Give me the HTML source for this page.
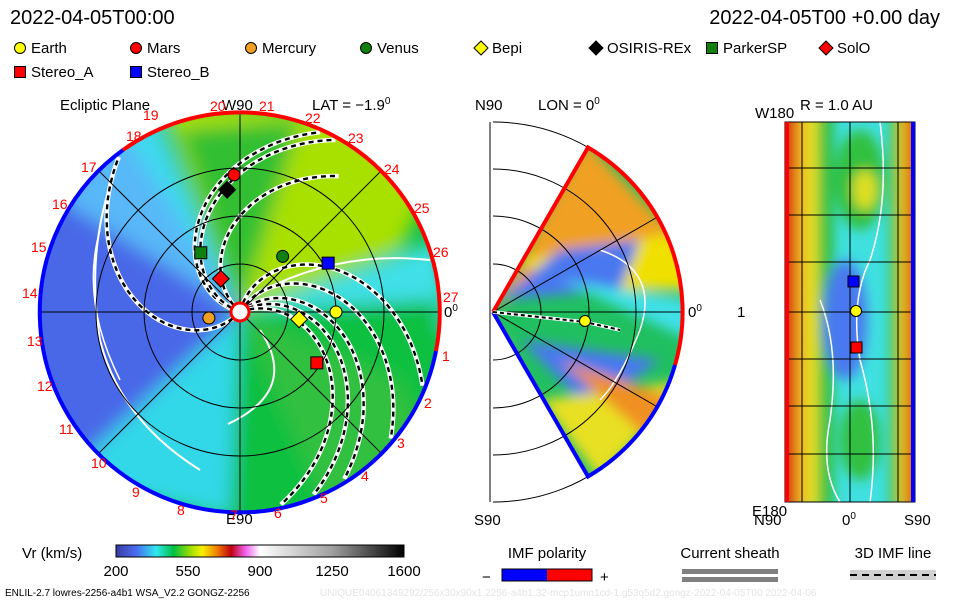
<!DOCTYPE html>
<html><head><meta charset="utf-8"><style>
body{margin:0;background:#fff;}
svg{display:block;font-family:"Liberation Sans",sans-serif;}
</style></head><body>
<svg id="c" width="960" height="600" viewBox="0 0 960 600">
<defs>
<filter id="bl"><feGaussianBlur stdDeviation="9"/></filter>
<filter id="bl2"><feGaussianBlur stdDeviation="6"/></filter>
<clipPath id="diskClip"><circle cx="240" cy="312" r="200"/></clipPath>
<clipPath id="wedgeClip"><path d="M493,312 L588,147.5 A190,190 0 0 1 588,476.5 Z"/></clipPath>
<clipPath id="rectClip"><rect x="785" y="122" width="130" height="380"/></clipPath>
<linearGradient id="cbar" x1="0" x2="1" y1="0" y2="0">
<stop offset="0" stop-color="#3a3aa0"/><stop offset="0.07" stop-color="#4a6cf0"/><stop offset="0.14" stop-color="#30e8f0"/>
<stop offset="0.2" stop-color="#00c040"/><stop offset="0.26" stop-color="#a0e000"/><stop offset="0.3" stop-color="#f8f000"/>
<stop offset="0.35" stop-color="#f08000"/><stop offset="0.4" stop-color="#c00010"/><stop offset="0.45" stop-color="#f060f0"/>
<stop offset="0.5" stop-color="#ffffff"/><stop offset="0.75" stop-color="#a0a0a0"/><stop offset="1" stop-color="#000"/>
</linearGradient>
<linearGradient id="imfp" x1="0" x2="1"><stop offset="0.5" stop-color="#0000ff"/><stop offset="0.5" stop-color="#ff0000"/></linearGradient>
</defs>

<text x="10" y="24" font-size="20">2022-04-05T00:00</text>
<text x="940" y="24" font-size="20" text-anchor="end">2022-04-05T00 +0.00 day</text>

<g id="legend" font-size="15"></g>

<g>
<text x="60" y="110" font-size="15">Ecliptic Plane</text>
<text x="222" y="110" font-size="15">W90</text>
<text x="312" y="110" font-size="15">LAT = −1.9<tspan dy="-6" font-size="10">0</tspan></text>
<text x="226" y="524" font-size="15">E90</text>
<text x="444" y="317" font-size="15">0<tspan dy="-6" font-size="10">0</tspan></text>
<g clip-path="url(#diskClip)">
<circle cx="240" cy="312" r="200" fill="#10c040"/>
<g filter="url(#bl)">
<path d="M240,312 L130,100 A230,230 0 0 0 60,480 Z" fill="#4a68e8"/>
<path d="M240,312 L150,100 L100,90 L95,180 Z" fill="#40d8f0"/>
<path d="M240,312 L120,130 L60,200 Z" fill="#58b8f8"/>
<path d="M240,312 L160,100 L460,120 L400,250 Z" fill="#a8e000"/>
<path d="M240,312 L180,130 L300,120 Z" fill="#30c030"/>
<path d="M240,312 L440,240 L450,330 Z" fill="#40e0e8"/>
<path d="M240,312 L440,300 L440,420 L300,330 Z" fill="#10c040"/>
<path d="M240,312 L60,480 L240,520 L260,330 Z" fill="#30d8e8"/>
<path d="M240,312 L230,520 L330,520 Z" fill="#10c040"/>
<path d="M240,312 L330,520 L430,440 L400,380 Z" fill="#30c040"/>
</g>
<path d="M116,168 Q85,250 100,340 Q120,420 200,470" stroke="#fff" stroke-width="2" fill="none"/>
<path d="M100,230 Q80,300 120,380" stroke="#fff" stroke-width="1.5" fill="none"/>
<path d="M260,292 Q340,250 430,260" stroke="#fff" stroke-width="2" fill="none"/>
<path d="M260,330 Q300,390 228,424" stroke="#fff" stroke-width="2" fill="none"/>
<g id="spirals"></g>
</g>
<g id="leftGrid" stroke="#000" stroke-width="1" fill="none"></g>
<path d="M123,150 A200,200 0 0 1 436,351" stroke="#f00" stroke-width="4" fill="none"/>
<path d="M436,351 A200,200 0 1 1 123,150" stroke="#00f" stroke-width="4" fill="none"/>
<circle cx="240" cy="312" r="9" fill="#fff" stroke="#f00" stroke-width="3"/>
<g id="carrLabels" fill="#f00" font-size="14"></g>
<g id="planets"></g>
</g>

<g>
<text x="475" y="110" font-size="15">N90</text>
<text x="538" y="110" font-size="15">LON = 0<tspan dy="-6" font-size="10">0</tspan></text>
<text x="474" y="525" font-size="15">S90</text>
<text x="688" y="317" font-size="15">0<tspan dy="-6" font-size="10">0</tspan></text>
<g clip-path="url(#wedgeClip)">
<rect x="490" y="140" width="200" height="345" fill="#20c060"/>
<g filter="url(#bl2)">
<path d="M493,312 L585,140 L690,250 L560,260 Z" fill="#f0a020"/>
<path d="M520,260 L690,230 L690,290 L560,290 Z" fill="#f0e000"/>
<path d="M500,300 L560,250 L640,240 L620,290 Z" fill="#4878f0"/>
<path d="M560,280 L690,300 L690,340 Z" fill="#40e0e8"/>
<path d="M520,340 L660,360 L590,410 Z" fill="#4878f0"/>
<path d="M540,400 L690,380 L600,480 Z" fill="#e8e020"/>
<path d="M560,360 L680,400 L650,440 Z" fill="#f09020"/>
<path d="M500,330 L560,480 L520,480 Z" fill="#e0d020"/>
</g>
<path d="M600,250 Q660,270 640,330 Q620,380 600,400" stroke="#fff" stroke-width="1.5" fill="none"/>
</g>
<g id="midGrid" stroke="#000" fill="none"></g>
<path d="M493,312 L588,147.5 A190,190 0 0 1 675,365" stroke="#f00" stroke-width="4" fill="none"/>
<path d="M675,365 A190,190 0 0 1 588,476.5 L493,312" stroke="#00f" stroke-width="4" fill="none"/>
<path d="M493,312 L585,322 L620,330" stroke="#fff" stroke-width="3.5" fill="none"/>
<path d="M493,312 L585,322 L620,330" stroke="#000" stroke-width="2" stroke-dasharray="4 3" fill="none"/>
<circle cx="585" cy="321" r="5.5" fill="#ff0" stroke="#000"/>
</g>

<g>
<text x="755" y="118" font-size="15">W180</text>
<text x="800" y="110" font-size="15">R = 1.0 AU</text>
<text x="737" y="317" font-size="15">1</text>
<text x="752" y="516" font-size="15">E180</text>
<text x="754" y="525" font-size="15">N90</text>
<text x="842" y="525" font-size="15">0<tspan dy="-6" font-size="10">0</tspan></text>
<text x="904" y="525" font-size="15">S90</text>
<g clip-path="url(#rectClip)">
<rect x="785" y="122" width="130" height="380" fill="#40e0e0"/>
<g filter="url(#bl2)">
<rect x="770" y="110" width="24" height="400" fill="#d02010"/>
<rect x="794" y="110" width="10" height="400" fill="#f0a020"/>
<rect x="804" y="110" width="14" height="400" fill="#e8e020"/>
<rect x="818" y="110" width="16" height="400" fill="#30c040"/>
<rect x="890" y="110" width="8" height="400" fill="#30c040"/>
<rect x="898" y="110" width="8" height="400" fill="#f0d020"/>
<rect x="906" y="110" width="20" height="400" fill="#e05010"/>
<ellipse cx="860" cy="180" rx="25" ry="50" fill="#30c040"/>
<ellipse cx="865" cy="190" rx="12" ry="20" fill="#e0e020"/>
<ellipse cx="845" cy="320" rx="22" ry="60" fill="#4878f0"/>
<ellipse cx="860" cy="440" rx="20" ry="40" fill="#30c040"/>
</g>
<path d="M880,122 Q890,200 870,260 Q850,300 860,360 Q880,430 870,502" stroke="#fff" stroke-width="1.5" fill="none"/>
<path d="M820,300 Q840,350 830,420 Q820,470 840,502" stroke="#fff" stroke-width="1.5" fill="none"/>
</g>
<g id="rightGrid" stroke="#000" fill="none"></g>
<line x1="787" y1="122" x2="787" y2="502" stroke="#f00" stroke-width="4"/>
<line x1="913" y1="122" x2="913" y2="502" stroke="#00f" stroke-width="4"/>
<rect x="848" y="276" width="11" height="11" fill="#00f" stroke="#000"/>
<circle cx="856" cy="311" r="5.5" fill="#ff0" stroke="#000"/>
<rect x="851" y="342" width="11" height="11" fill="#f00" stroke="#000"/>
</g>

<g>
<text x="22" y="558" font-size="15">Vr (km/s)</text>
<rect x="116" y="545" width="288" height="12" fill="url(#cbar)" stroke="#000"/>
<g id="cbTicks" font-size="15" text-anchor="middle"></g>
</g>
<text x="547" y="558" font-size="15" text-anchor="middle">IMF polarity</text>
<text x="482" y="582" font-size="15">−</text>
<rect x="502" y="569" width="90" height="12" fill="url(#imfp)" stroke="#000"/>
<text x="600" y="582" font-size="15">+</text>
<text x="730" y="558" font-size="15" text-anchor="middle">Current sheath</text>
<rect x="682" y="569" width="96" height="5" fill="#808080"/>
<rect x="682" y="577" width="96" height="5" fill="#808080"/>
<text x="893" y="558" font-size="15" text-anchor="middle">3D IMF line</text>
<rect x="850" y="570" width="86" height="10" fill="#d0d0d0"/>
<line x1="850" y1="575" x2="936" y2="575" stroke="#000" stroke-width="2" stroke-dasharray="7 5"/>
<text x="5" y="596" font-size="10">ENLIL-2.7 lowres-2256-a4b1 WSA_V2.2 GONGZ-2256</text>
<text x="320" y="596" font-size="10" fill="#e4e4e4">UNIQUE04061349292/256x30x90x1.2256-a4b1.32-mcp1umn1cd-1.g53q5d2.gongz-2022-04-05T00   2022-04-06</text>
</svg>
<script>
const NS='http://www.w3.org/2000/svg';
const cx=240, cy=312, AU=96;
// ---- data ----
const bodyNames=['Earth','Mars','Mercury','Venus','Bepi','OSIRIS-REx','ParkerSP','SolO','Stereo_A','Stereo_B'];
const bodyR=[1.0,1.43,0.33,0.73,0.62,1.28,0.74,0.40,0.96,1.05];
const bodyLon=[0,92.5,191,52.5,-7,96,123.5,120,-33.5,29];
const bodyShape=['circle','circle','circle','circle','diamond','diamond','square','diamond','square','square'];
const bodyColor=['#ffff00','#ff0000','#f0a020','#108010','#ffff00','#000000','#108010','#ff0000','#ff0000','#0000ff'];
// field-line end longitudes (deg) at the outer boundary
const spiralEnd=[128,66,61,54,-22,-40,-58,-68,-78];
const spiralOuterR=[2.05,2.05,2.05,1.75,2.05,2.05,2.05,2.05,2.05];
const windingDegPerAU=48;
const cbTickLabels=['200','550','900','1250','1600'];
const cbTickValues=[200,550,900,1250,1600];
function el(tag,attrs,parent){const e=document.createElementNS(NS,tag);for(const k in attrs)e.setAttribute(k,attrs[k]);parent.appendChild(e);return e;}
function pos(r,deg){const a=deg*Math.PI/180;return [cx+r*AU*Math.cos(a), cy-r*AU*Math.sin(a)];}
function marker(shape,x,y,color,parent,s){
  if(shape==='circle') return el('circle',{cx:x,cy:y,r:s,fill:color,stroke:'#000','stroke-width':1},parent);
  if(shape==='square') return el('rect',{x:x-s,y:y-s,width:2*s,height:2*s,fill:color,stroke:'#000','stroke-width':1},parent);
  return el('polygon',{points:`${x},${y-s*1.4} ${x+s*1.4},${y} ${x},${y+s*1.4} ${x-s*1.4},${y}`,fill:color,stroke:'#000','stroke-width':1},parent);
}
const lg=document.getElementById('legend');
const legX=[14,130,245,360,475,590,706,820,14,130], legY=[48,48,48,48,48,48,48,48,72,72];
bodyNames.forEach((n,i)=>{
  const g=el('g',{},lg);
  
  
  marker(bodyShape[i],legX[i]+6,legY[i],bodyColor[i],g,bodyShape[i]==='diamond'?5:5.5);
  const t=el('text',{x:legX[i]+17,y:legY[i]+5},g);t.textContent=n;
});
const sp=document.getElementById('spirals');
spiralEnd.forEach((pe,i)=>{
  const R=spiralOuterR[i];
  let d='';
  for(let r=0.1;r<=R+0.001;r+=0.03){const [x,y]=pos(r,pe+(R-r)*windingDegPerAU);d+=(d?'L':'M')+x.toFixed(1)+','+y.toFixed(1);}
  const w=el('path',{d:d,stroke:'#fff','stroke-width':4.5,fill:'none'},sp);
  
  
  const b=el('path',{d:d,stroke:'#000','stroke-width':2.4,'stroke-dasharray':'5 4',fill:'none'},sp);
  
  
});
const lgd=document.getElementById('leftGrid');
[0.5,1,1.5].forEach(r=>el('circle',{cx:cx,cy:cy,r:r*AU},lgd));
[0,45,90,135].forEach(a=>{const [x1,y1]=pos(2.08,a),[x2,y2]=pos(2.08,a+180);el('line',{x1,y1,x2,y2},lgd);});
const cl=document.getElementById('carrLabels');
const carr=[['18',126,141],['19',143,120],['20',210,111],['21',259,111],['22',305,123],['23',348,143],['24',384,174],['25',414,213],['26',433,257],['27',443,302],['1',442,361],['2',424,408],['3',397,448],['4',361,481],['5',320,503],['6',274,518],['7',230,520],['8',177,515],['9',132,497],['10',91,468],['11',59,434],['12',37,391],['13',27,346],['14',22,298],['15',31,252],['16',52,209],['17',81,172]];
carr.forEach(c=>{const t=el('text',{x:c[1],y:c[2]},cl);t.textContent=c[0];});
const pl=document.getElementById('planets');
bodyNames.forEach((n,i)=>{
  const [x,y]=pos(bodyR[i],bodyLon[i]);
  const m=marker(bodyShape[i],x,y,bodyColor[i],pl,6);
  
  
});
const mg=document.getElementById('midGrid');
[48,96,143,190].forEach(r=>el('path',{d:`M493,${312-r} A${r},${r} 0 0 1 493,${312+r}`},mg));
el('line',{x1:490,y1:122,x2:490,y2:502},mg);
[-60,-30,0,30,60].forEach(a=>{const t=a*Math.PI/180;el('line',{x1:493,y1:312,x2:493+190*Math.cos(t),y2:312-190*Math.sin(t)},mg);});
const rg=document.getElementById('rightGrid');
[802,850,898].forEach(x=>el('line',{x1:x,y1:122,x2:x,y2:502},rg));
[168,215,262,312,359,406,454].forEach(y=>el('line',{x1:785,y1:y,x2:915,y2:y},rg));
el('rect',{x:785,y:122,width:130,height:380},rg);
const cb=document.getElementById('cbTicks');
const vmin=200,vmax=1600;
cbTickValues.forEach((v,i)=>{const x=116+(v-vmin)/(vmax-vmin)*288;const t=el('text',{x:x,y:576},cb);t.textContent=cbTickLabels[i];});
</script>
</body></html>
